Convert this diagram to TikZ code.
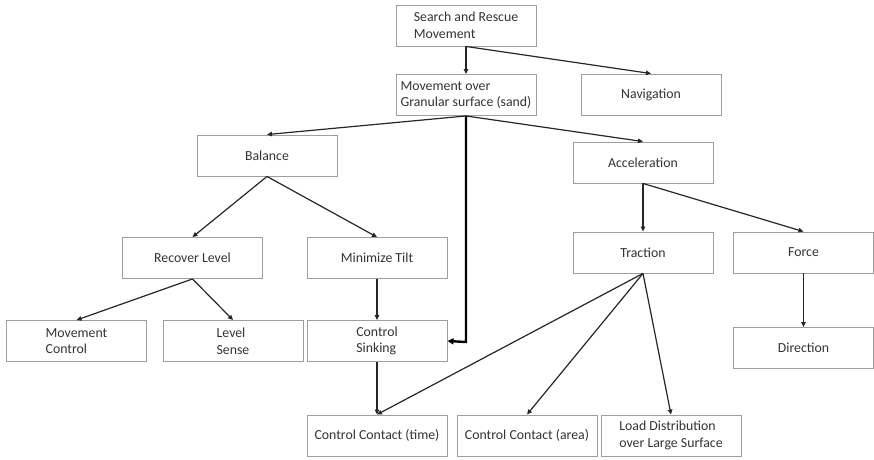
\documentclass[tikz,border=0pt]{standalone}
\usepackage{fontspec}
\setmainfont{Carlito}
\usetikzlibrary{arrows.meta}
\begin{document}
\begin{tikzpicture}[x=1pt,y=-1pt,
  box/.style={draw=black!38,line width=0.9pt,fill=white,minimum width=140pt,minimum height=41pt,
    inner sep=1pt,align=left,font=\fontsize{13.8}{16.5}\selectfont,text=black!80},
  link/.style={draw=black!85,line width=1.2pt,-{Triangle[length=5pt,width=4.5pt]}},
  thick link/.style={draw=black,line width=2.4pt,-{Triangle[length=6pt,width=6pt]}}]
\useasboundingbox (0,0) rectangle (874,459);
\node[box] (sr)  at (466,25.5) {Search and Rescue\\Movement};
\node[box] (mg)  at (466,95)   {Movement over\\Granular surface (sand)};
\node[box] (nav) at (651,94.5) {Navigation};
\node[box] (bal) at (267,155.5) {Balance};
\node[box] (acc) at (643,162.5) {Acceleration};
\node[box] (rl)  at (192.5,258) {Recover Level};
\node[box] (mt)  at (377,258) {Minimize Tilt};
\node[box] (tr)  at (643,252.5) {Traction};
\node[box] (fo)  at (803.5,252.5) {Force};
\node[box] (mc)  at (76.5,341) {Movement\\Control};
\node[box] (ls)  at (233,341) {Level\\Sense};
\node[box] (cs)  at (377,341) {Control\\Sinking};
\node[box] (dir) at (803.5,348) {Direction};
\node[box] (cct) at (377,435.5) {Control Contact (time)};
\node[box] (cca) at (527,435.5) {Control Contact (area)};
\node[box] (ld)  at (671,435.5) {Load Distribution\\over Large Surface};
\coordinate (turn) at (466,342);
\draw[link] (sr.south) -- (mg.north);
\draw[link] (sr.south) -- (nav.north);
\draw[link] (mg.south) -- (bal.north);
\draw[link] (mg.south) -- (acc.north);
\draw[thick link] (mg.south) -- (turn) -- (cs.east);
\draw[link] (bal.south) -- (rl.north);
\draw[link] (bal.south) -- (mt.north);
\draw[link] (acc.south) -- (tr.north);
\draw[link] (acc.south) -- (fo.north);
\draw[link] (fo.south) -- (dir.north);
\draw[link] (rl.south) -- (mc.north);
\draw[link] (rl.south) -- (ls.north);
\draw[link] (mt.south) -- (cs.north);
\draw[link] (cs.south) -- (cct.north);
\draw[link] (tr.south) -- (cct.north);
\draw[link] (tr.south) -- (cca.north);
\draw[link] (tr.south) -- (ld.north);
\end{tikzpicture}
\end{document}
